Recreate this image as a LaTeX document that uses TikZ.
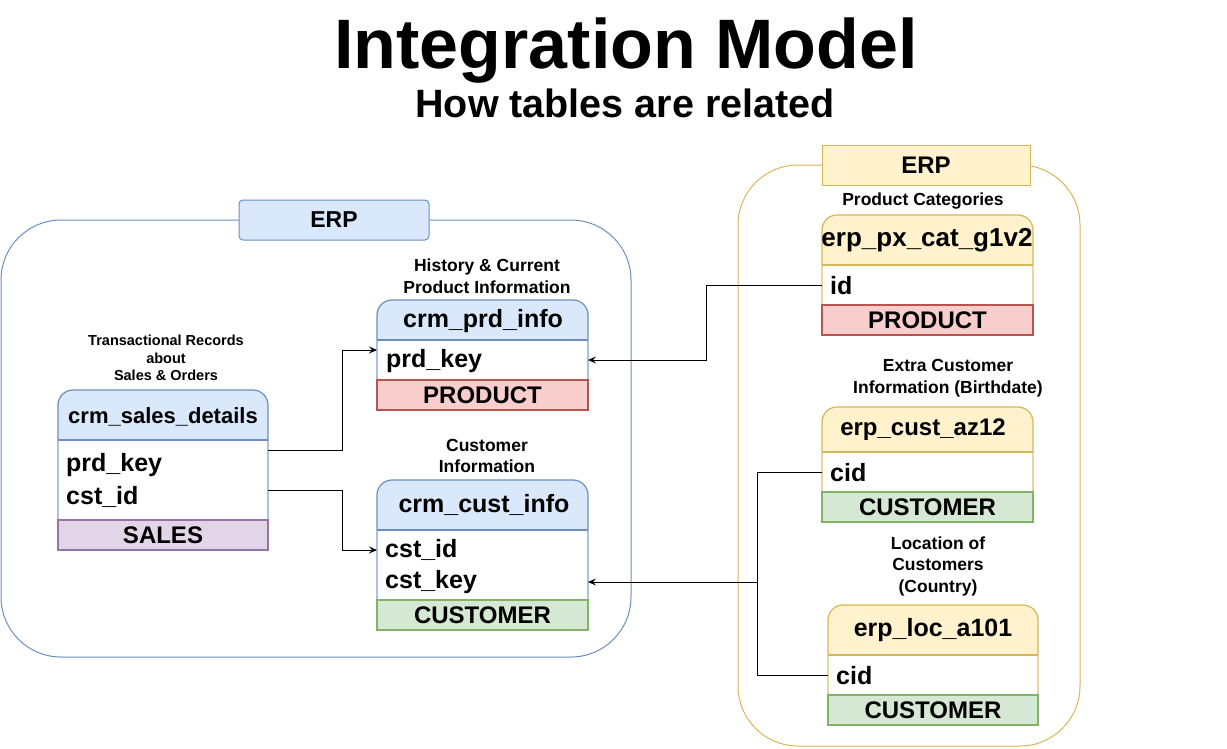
\documentclass[tikz,border=0pt]{standalone}
\usepackage{fontspec}
\setmainfont{Liberation Sans}
\usetikzlibrary{positioning,arrows.meta}

\definecolor{blueFill}{HTML}{DAE8FC}
\definecolor{blueLine}{HTML}{6C8EBF}
\definecolor{yellowFill}{HTML}{FFF2CC}
\definecolor{yellowLine}{HTML}{D6B656}
\definecolor{redFill}{HTML}{F8CECC}
\definecolor{redLine}{HTML}{B85450}
\definecolor{greenFill}{HTML}{D5E8D4}
\definecolor{greenLine}{HTML}{82B366}
\definecolor{purpleFill}{HTML}{E1D5E7}
\definecolor{purpleLine}{HTML}{9673A6}

\tikzset{
    headbox/.style={line width=1.2pt, rounded corners=15},
    headtext/.style={font=\bfseries\fontsize{25}{30}\selectfont, inner sep=0},
    field/.style={anchor=west, font=\bfseries\fontsize{25}{30}\selectfont, inner sep=0},
    bodybox/.style={anchor=north west, fill=white, line width=1.2pt, minimum width=211, inner sep=0, outer sep=0},
    footbox/.style={anchor=north west, line width=1.2pt, minimum width=211, minimum height=30, inner sep=0, outer sep=0, font=\bfseries\fontsize{24}{28}\selectfont},
    tagbox/.style={line width=1pt, minimum height=40, inner sep=0, font=\bfseries\fontsize{23}{28}\selectfont},
    note/.style={align=center, inner sep=0, font=\bfseries\fontsize{17.5}{21.5}\selectfont},
    link/.style={line width=1pt, -{Stealth[length=8pt,width=7pt,inset=3pt]}}
}

\begin{document}
\begin{tikzpicture}[x=1pt, y=-1pt]
    \useasboundingbox (0,0) rectangle (1227,748);

    % Titre
    \node[anchor=base, font=\bfseries\fontsize{70}{84}\selectfont, inner sep=0] (title) at (626,68) {Integration Model};
    \node[anchor=base, font=\bfseries\fontsize{39.5}{46}\selectfont, inner sep=0] (subtitle) at (625,117) {How tables are related};

    % Conteneurs
    \draw[blueLine, line width=1pt, rounded corners=60] (1,220) rectangle (631,657);
    \node[tagbox, draw=blueLine, fill=blueFill, rounded corners=4, minimum width=190] (crmTag) at (334,220) {ERP};
    \draw[yellowLine, line width=1pt, rounded corners=60] (738,165) rectangle (1080,746);
    \node[tagbox, draw=yellowLine, fill=yellowFill, minimum width=208, font=\bfseries\fontsize{24}{28}\selectfont] (erpTag) at (926,165) {ERP};

    % Notes
    \node[note, font=\bfseries\fontsize{14.5}{17.5}\selectfont] (salesNote) at (166,358) {Transactional Records\\about\\Sales \& Orders};
    \node[note] (prdNote) at (487,276) {History \& Current\\Product Information};
    \node[note] (custNote) at (487,456) {Customer\\Information};
    \node[note] (pxcatNote) at (923,201) {Product Categories};
    \node[note] (az12Note) at (948,378) {Extra Customer\\Information (Birthdate)};
    \node[note] (locNote) at (938,566) {Location of\\Customers\\ (Country)};

    % crm_sales_details
    \draw[headbox, draw=blueLine, fill=blueFill] (58,390) rectangle (268,470);
    \node[headtext, font=\bfseries\fontsize{22}{26}\selectfont] (salesHead) at (163,417) {crm\_sales\_details};
    \node[bodybox, draw=blueLine!55, minimum width=210, minimum height=80] (salesBody) at (58,440) {};
    \draw[blueLine, line width=1.2pt] (salesBody.north west) -- (salesBody.north east);
    \node[field] (salesPrd) at (66,465) {prd\_key};
    \node[field] (salesCst) at (66,497) {cst\_id};
    \node[footbox, draw=purpleLine, fill=purpleFill, minimum width=210] (salesFoot) at (58,520) {SALES};

    % crm_prd_info
    \draw[headbox, draw=blueLine, fill=blueFill] (377,300) rectangle (588,370);
    \node[headtext] (prdHead) at (483,321) {crm\_prd\_info};
    \node[bodybox, draw=blueLine!55, minimum height=40] (prdBody) at (377,340) {};
    \draw[blueLine, line width=1.2pt] (prdBody.north west) -- (prdBody.north east);
    \node[field] (prdKey) at (386,361) {prd\_key};
    \node[footbox, draw=redLine, fill=redFill] (prdFoot) at (377,380) {PRODUCT};

    % crm_cust_info
    \draw[headbox, draw=blueLine, fill=blueFill] (377,480) rectangle (588,560);
    \node[headtext] (custHead) at (484,505) {crm\_cust\_info};
    \node[bodybox, draw=blueLine!55, minimum height=70] (custBody) at (377,530) {};
    \draw[blueLine, line width=1.2pt] (custBody.north west) -- (custBody.north east);
    \node[field] (custId) at (385,550) {cst\_id};
    \node[field] (custKey) at (385,582) {cst\_key};
    \node[footbox, draw=greenLine, fill=greenFill] (custFoot) at (377,600) {CUSTOMER};

    % erp_px_cat_g1v2
    \draw[headbox, draw=yellowLine, fill=yellowFill] (822,215) rectangle (1033,295);
    \node[headtext, font=\bfseries\fontsize{26}{30}\selectfont] (pxcatHead) at (927,240) {erp\_px\_cat\_g1v2};
    \node[bodybox, draw=yellowLine!55, minimum height=40] (pxcatBody) at (822,265) {};
    \draw[yellowLine, line width=1.2pt] (pxcatBody.north west) -- (pxcatBody.north east);
    \node[field] (pxcatId) at (830,286) {id};
    \node[footbox, draw=redLine, fill=redFill] (pxcatFoot) at (822,305) {PRODUCT};

    % erp_cust_az12
    \draw[headbox, draw=yellowLine, fill=yellowFill] (822,407) rectangle (1033,480);
    \node[headtext, font=\bfseries\fontsize{24}{28}\selectfont] (az12Head) at (923,430) {erp\_cust\_az12};
    \node[bodybox, draw=yellowLine!55, minimum height=40] (az12Body) at (822,452) {};
    \draw[yellowLine, line width=1.2pt] (az12Body.north west) -- (az12Body.north east);
    \node[field] (az12Cid) at (830,473) {cid};
    \node[footbox, draw=greenLine, fill=greenFill] (az12Foot) at (822,492) {CUSTOMER};

    % erp_loc_a101
    \draw[headbox, draw=yellowLine, fill=yellowFill] (828,605) rectangle (1038,685);
    \node[headtext] (locHead) at (933,630) {erp\_loc\_a101};
    \node[bodybox, draw=yellowLine!55, minimum width=210, minimum height=40] (locBody) at (828,655) {};
    \draw[yellowLine, line width=1.2pt] (locBody.north west) -- (locBody.north east);
    \node[field] (locCid) at (836,676) {cid};
    \node[footbox, draw=greenLine, fill=greenFill, minimum width=210] (locFoot) at (828,695) {CUSTOMER};

    % Liens
    \draw[link] ([yshift=30]salesBody.east) -- ++(74,0) |- ([yshift=10]prdBody.west);
    \draw[link] ([yshift=-10]salesBody.east) -- ++(74,0) |- (custBody.west |- custId);
    \draw[link] (pxcatBody.west) -- ++(-116,0) |- (prdBody.east);
    \draw[line width=1pt] (az12Body.west) -- ++(-65,0) |- (locBody.west);
    \coordinate (custJoin) at ([xshift=-65]az12Body.west |- custKey);
    \draw[link] (custJoin) -- (custBody.east |- custKey);

\end{tikzpicture}
\end{document}
